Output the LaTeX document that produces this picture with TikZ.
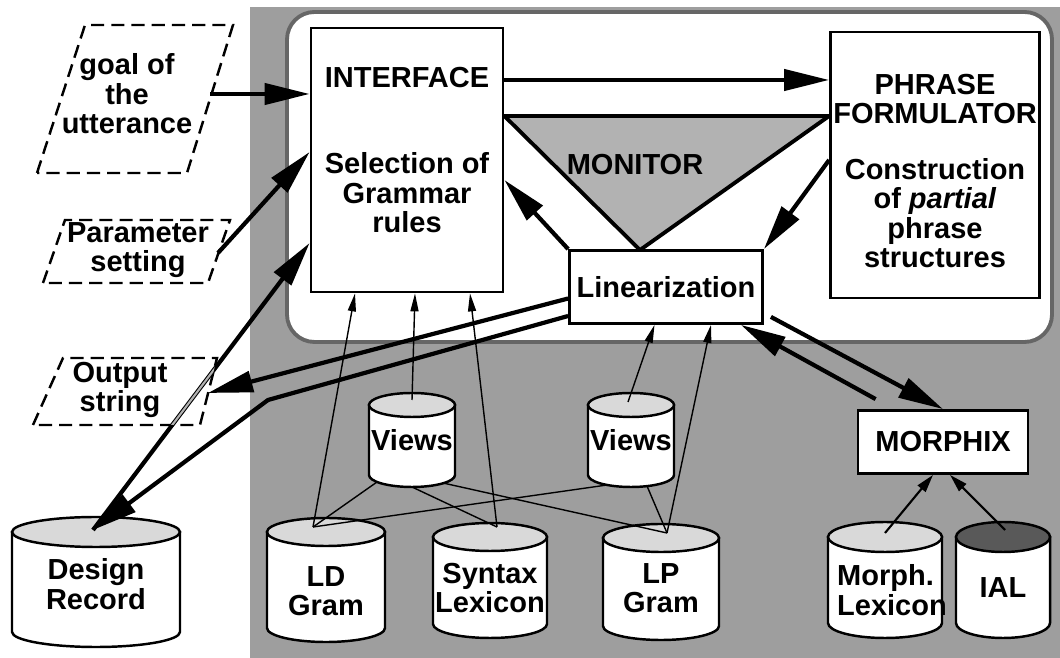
\documentclass[tikz,border=0pt]{standalone}
\usepackage{fontspec}
\setmainfont{Liberation Sans}
\usetikzlibrary{arrows.meta}

\tikzset{
  every node/.style={font=\bfseries\fontsize{16.5}{16.8}\selectfont, align=center},
  box/.style={draw, line width=1.6pt, fill=white, inner sep=0pt},
  given/.style={dash pattern=on 7.5pt off 4pt, line width=1.4pt},
  bigarrow/.style={line width=2.4pt, -{Triangle[length=0.9cm,width=0.42cm]}},
  thinarrow/.style={line width=0.8pt, -{Triangle[length=0.36cm,width=0.16cm]}},
  midarrow/.style={line width=1.2pt, -{Triangle[length=0.36cm,width=0.2cm]}},
  thinline/.style={line width=0.8pt},
  drumline/.style={line width=1.4pt},
}
% centre x, y of the top end, y of the bottom end, half width, half height of the ends, fill of the top
\newcommand{\drum}[6]{%
  \filldraw[drumline, fill=white] (#1-#4,#2) -- (#1-#4,#3)
    arc[start angle=180, end angle=360, x radius=#4, y radius=#5] -- (#1+#4,#2) -- cycle;
  \filldraw[drumline, fill=#6] (#1,#2) ellipse[x radius=#4, y radius=#5];
}

\begin{document}
\begin{tikzpicture}[x=0.02cm, y=0.02cm]
  \useasboundingbox (0,0) rectangle (1060,658);
  % grey ground and the white formulator area
  \fill[black!38] (250,0) rectangle (1060,651);
  \filldraw[fill=white, draw=black!60, line width=2.2pt, rounded corners=0.55cm] (287,316) rectangle (1052,646);

  % given inputs
  \draw[given] (37,485) -- (85,633) -- (233,633) -- (187,485) -- cycle;
  \node (goal) at (127,564) {goal of\\the\\utterance};
  \coordinate (goalout) at (210,564);
  \draw[given] (43,375) -- (65,438) -- (230,438) -- (208,375) -- cycle;
  \node (param) at (138,408) {Parameter\\setting};
  \coordinate (paramout) at (218,405);
  \draw[given] (33,233) -- (63,300) -- (217,300) -- (200,233) -- cycle;
  \node (output) at (120,268) {Output\\string};
  \coordinate (outputin) at (208,265);

  % components
  \node[box, minimum width=3.84cm, minimum height=5.28cm] (interface) at (407,498) {};
  \node[box, minimum width=4.18cm, minimum height=5.32cm] (phrase) at (935,493) {};
  \filldraw[fill=black!30, line width=2.2pt, line join=round] (interface.east |- 0,542) -- (phrase.west |- 0,542) -- (640,408) -- cycle;
  \node[box, minimum width=3.86cm, minimum height=1.46cm] (lin) at (666,371) {Linearization};
  \node[box, minimum width=3.4cm, minimum height=1.26cm] (morphix) at (943,216) {MORPHIX};

  \node (iftitle) at (407,580) {INTERFACE};
  \node (iftask) at (407,465) {Selection of\\Grammar\\rules};
  \node (pftitle) at (935,559) {PHRASE\\FORMULATOR};
  \node (pftask) at (935,445) {Construction\\of \textit{partial}\\phrase\\structures};
  \node (montitle) at (635,493) {MONITOR};

  % data bases
  \drum{96}{126}{26}{84}{15}{black!15}
  \node (designtext) at (96,74) {Design\\Record};
  \coordinate (design) at (93,128);
  \drum{326}{126}{30}{59}{14}{black!15}
  \node (ldtext) at (326,67) {LD\\Gram};
  \coordinate (ld) at (313,131);
  \drum{490}{121}{34}{57}{14}{black!15}
  \node (syntaxtext) at (490,70) {Syntax\\Lexicon};
  \coordinate (syntax) at (497,131);
  \drum{661}{120}{32}{58}{14}{black!15}
  \node (lptext) at (661,70) {LP\\Gram};
  \coordinate (lp) at (667,125);
  \drum{412}{253}{183}{43}{12}{black!15}
  \node (views1text) at (412,218) {Views};
  \coordinate (views1) at (412,258);
  \coordinate (views1foot) at (412,171);
  \drum{631}{253}{183}{43}{12}{black!15}
  \node (views2text) at (631,218) {Views};
  \coordinate (views2) at (628,256);
  \coordinate (views2foot) at (631,171);
  \drum{885}{121}{35}{57}{15}{black!15}
  \node[anchor=west, align=left] (morphtext) at (831,68) {Morph.\\Lexicon};
  \coordinate (morph) at (885,125);
  \drum{1003}{121}{35}{47}{15}{black!65}
  \node (ialtext) at (1003,70) {IAL};
  \coordinate (ial) at (1005,128);

  % views on the grammars
  \draw[thinline] ([shift={(-0.7cm,0.1cm)}]views1foot) -- (ld);
  \draw[thinline] (views1foot) -- (syntax);
  \draw[thinline] ([shift={(0.62cm,0.08cm)}]views1foot) -- (lp);
  \draw[thinline] ([shift={(-0.48cm,0.04cm)}]views2foot) -- (ld);
  \draw[thinline] ([shift={(0.32cm,0.02cm)}]views2foot) -- (lp);

  \draw[thinarrow] (ld) -- ([xshift=-1.04cm]interface.south);
  \draw[thinarrow] (views1) -- ([xshift=0.16cm]interface.south);
  \draw[thinarrow] (syntax) -- ([xshift=1.26cm]interface.south);
  \draw[thinarrow] (views2) -- ([xshift=-0.23cm]lin.south);
  \draw[thinarrow] (lp) -- ([xshift=0.9cm]lin.south);

  % main flow
  \draw[bigarrow] (goalout) -- (goalout -| interface.west);
  \draw[bigarrow] (paramout) -- ([yshift=0.16cm]interface.west);
  \draw[bigarrow] (design) -- ([yshift=-1.66cm]interface.west);
  \begin{scope}
    \clip (33,233) -- (63,300) -- (217,300) -- (200,233) -- cycle;
    \draw[line width=1.2pt, black!30] (design) -- ([yshift=-1.66cm]interface.west);
  \end{scope}
  \draw[bigarrow] (interface.east |- 0,578) -- (phrase.west |- 0,578);
  \draw[bigarrow] ([yshift=0.1cm]phrase.west) -- (lin.north east);
  \draw[bigarrow] (lin.north west) -- ([yshift=-0.4cm]interface.east);
  \draw[bigarrow] ([yshift=-0.23cm]lin.west) -- (outputin);
  \draw[bigarrow] ([yshift=-0.58cm]lin.west) -- (268,258) -- (design);
  \draw[bigarrow] ([shift={(0.38cm,0.2cm)}]morphix.north west) -- ([xshift=-0.46cm]lin.south east);
  \draw[bigarrow] ([shift={(0.14cm,0.16cm)}]lin.south east) -- (morphix.north);
  \draw[midarrow] (morph) -- ([xshift=-0.2cm]morphix.south);
  \draw[midarrow] (ial) -- ([xshift=0.14cm]morphix.south);
\end{tikzpicture}
\end{document}
